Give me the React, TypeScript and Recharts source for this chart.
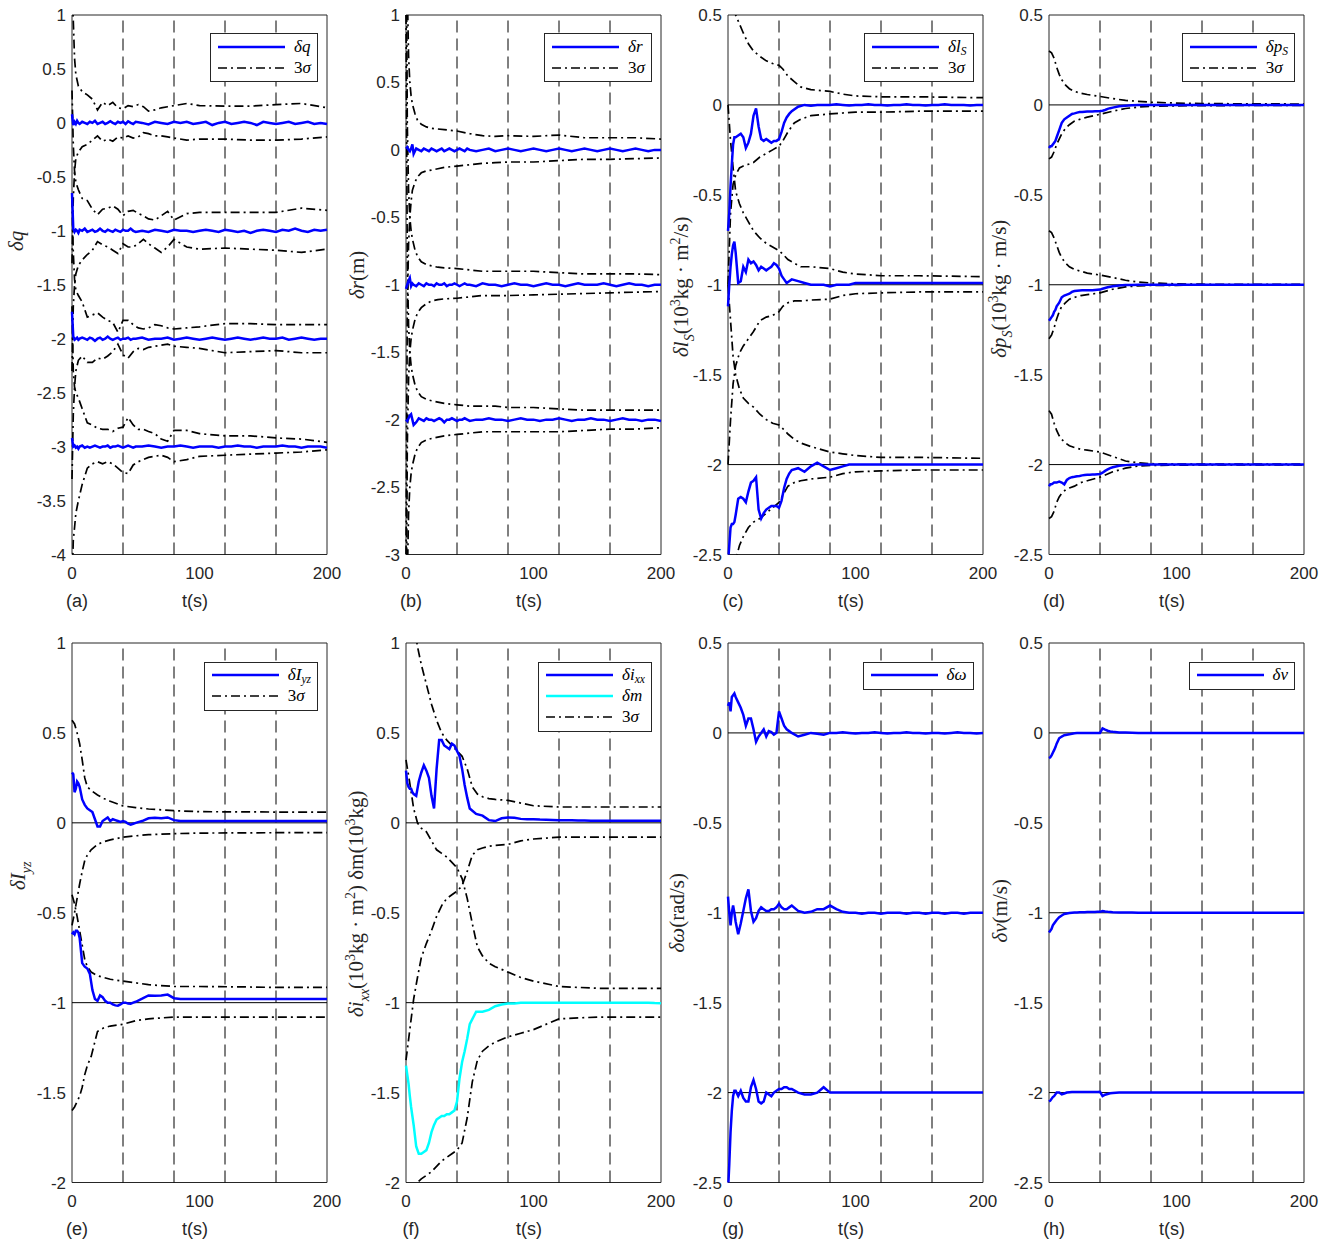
import React from "react";
import {
  Legend,
  Line,
  LineChart,
  ReferenceArea,
  ReferenceLine,
  XAxis,
  YAxis,
} from "recharts";

// shared time grid for the estimation errors (s)
const T_FINE = [
  0, 1, 2, 3, 4, 5, 6, 8, 10, 12,
  14, 16, 18, 20, 22, 24, 26, 28, 30, 32,
  34, 36, 38, 40, 42, 44, 46, 48, 50, 55,
  60, 65, 70, 75, 80, 85, 90, 95, 100, 105,
  110, 115, 120, 125, 130, 135, 140, 145, 150, 155,
  160, 165, 170, 175, 180, 185, 190, 195, 200,
];

const X_TICKS = [0, 100, 200];
const DASH_T = [40, 80, 120, 160];
const TICKS_A = [-4, -3.5, -3, -2.5, -2, -1.5, -1, -0.5, 0, 0.5, 1];
const TICKS_B = [-3, -2.5, -2, -1.5, -1, -0.5, 0, 0.5, 1];
const TICKS_C = [-2.5, -2, -1.5, -1, -0.5, 0, 0.5];
const TICKS_E = [-2, -1.5, -1, -0.5, 0, 0.5, 1];

// (a) delta q
const A_Q0 = [
  0.08, -0.02, 0.01, -0.01, 0.02, 0.0, -0.01, 0.01, 0.0, -0.01,
  0.01, 0.0, 0.02, -0.01, 0.0, 0.01, -0.01, 0.0, 0.015, 0.0,
  -0.01, 0.01, 0.0, 0.01, -0.01, 0.015, 0.0, -0.01, 0.01, 0.0,
  -0.015, 0.01, 0.0, -0.01, 0.01, 0.0, 0.01, -0.01, 0.0, 0.01,
  -0.02, 0.0, 0.01, -0.01, 0.0, 0.01, 0.0, -0.02, 0.01, 0.0,
  -0.01, 0.0, 0.01, -0.01, 0.0, 0.01, -0.01, 0.0, -0.01,
];
const A_Q1 = [
  -0.65, -0.98, -1.01, -0.99, -1.0, -1.02, -0.99, -1.0, -0.98, -1.01,
  -1.0, -0.99, -1.01, -1.0, -0.98, -1.0, -1.01, -0.99, -1.0, -1.01,
  -0.99, -1.0, -1.01, -0.99, -1.0, -1.0, -0.98, -1.0, -1.01, -1.0,
  -1.01, -0.99, -1.0, -1.01, -0.99, -1.0, -1.0, -1.01, -1.0, -0.99,
  -1.0, -1.01, -0.99, -1.0, -1.01, -1.0, -1.02, -1.0, -0.99, -1.0,
  -1.01, -0.99, -1.0, -0.98, -1.0, -1.01, -0.99, -1.0, -0.99,
];
const A_Q2 = [
  -1.75, -1.98, -2.01, -2.0, -1.99, -2.01, -2.0, -1.99, -2.0, -2.01,
  -1.99, -2.0, -2.02, -2.0, -1.99, -2.01, -2.0, -1.98, -2.0, -2.01,
  -2.0, -1.99, -2.01, -2.0, -2.0, -1.99, -2.01, -2.0, -2.0, -1.99,
  -2.01, -2.0, -2.0, -1.99, -2.01, -2.0, -1.99, -2.0, -2.01, -2.0,
  -1.99, -2.0, -2.01, -2.0, -1.99, -2.0, -2.01, -2.0, -1.99, -2.0,
  -2.0, -1.99, -2.01, -2.0, -1.99, -2.0, -2.01, -2.0, -2.0,
];
const A_Q3 = [
  -2.92, -3.0, -2.99, -3.01, -3.0, -3.02, -3.0, -2.99, -3.01, -3.0,
  -3.01, -3.0, -2.99, -3.0, -3.01, -3.0, -3.0, -2.99, -3.01, -3.0,
  -3.0, -2.99, -3.0, -3.01, -3.0, -2.99, -3.0, -3.01, -3.0, -3.0,
  -2.99, -3.0, -3.01, -3.0, -3.0, -2.99, -3.0, -3.01, -3.0, -3.0,
  -3.0, -3.01, -3.0, -3.0, -2.99, -3.0, -3.0, -3.01, -3.0, -3.0,
  -3.0, -2.99, -3.0, -3.0, -3.01, -3.0, -3.0, -3.0, -3.01,
];
const A_ENV_T = [0, 1, 2, 3, 5, 8, 12, 16, 20, 24, 28, 32, 36, 40, 44, 48, 52, 56, 60, 65, 70, 75, 80, 90, 100, 120, 140, 160, 180, 200];
const A_U0 = [1.3, 0.95, 0.6, 0.45, 0.34, 0.29, 0.26, 0.22, 0.12, 0.19, 0.16, 0.19, 0.14, 0.13, 0.16, 0.15, 0.17, 0.15, 0.11, 0.12, 0.14, 0.15, 0.16, 0.18, 0.16, 0.155, 0.155, 0.17, 0.18, 0.14];
const A_L0 = [-1.3, -0.7, -0.45, -0.33, -0.27, -0.22, -0.2, -0.16, -0.12, -0.17, -0.15, -0.17, -0.13, -0.14, -0.12, -0.14, -0.13, -0.09, -0.1, -0.12, -0.12, -0.13, -0.14, -0.16, -0.15, -0.15, -0.16, -0.16, -0.15, -0.13];
const A_U1 = [0.3, -0.2, -0.45, -0.55, -0.62, -0.7, -0.72, -0.8, -0.85, -0.8, -0.79, -0.77, -0.8, -0.86, -0.82, -0.81, -0.84, -0.86, -0.89, -0.9, -0.86, -0.82, -0.9, -0.84, -0.83, -0.83, -0.83, -0.83, -0.79, -0.81];
const A_L1 = [-2.3, -1.7, -1.5, -1.4, -1.32, -1.27, -1.22, -1.18, -1.1, -1.13, -1.15, -1.18, -1.21, -1.12, -1.15, -1.15, -1.12, -1.08, -1.12, -1.16, -1.2, -1.15, -1.08, -1.15, -1.17, -1.16, -1.17, -1.18, -1.2, -1.17];
const A_U2 = [-0.7, -1.2, -1.45, -1.55, -1.6, -1.66, -1.8, -1.78, -1.76, -1.8, -1.83, -1.85, -1.94, -1.83, -1.83, -1.87, -1.9, -1.91, -1.9, -1.87, -1.88, -1.9, -1.91, -1.9, -1.89, -1.86, -1.86, -1.87, -1.87, -1.87];
const A_L2 = [-3.3, -2.7, -2.45, -2.3, -2.2, -2.16, -2.22, -2.22, -2.18, -2.19, -2.16, -2.12, -2.05, -2.15, -2.18, -2.12, -2.09, -2.1, -2.08, -2.07, -2.06, -2.05, -2.07, -2.08, -2.09, -2.13, -2.12, -2.11, -2.13, -2.13];
const A_U3 = [-1.7, -2.3, -2.45, -2.5, -2.55, -2.65, -2.78, -2.8, -2.83, -2.84, -2.84, -2.86, -2.83, -2.82, -2.73, -2.8, -2.84, -2.84, -2.86, -2.88, -2.93, -2.95, -2.85, -2.85, -2.88, -2.9, -2.9, -2.92, -2.93, -2.96];
const A_L3 = [-4.3, -3.87, -3.75, -3.62, -3.5, -3.35, -3.2, -3.16, -3.14, -3.16, -3.14, -3.16, -3.2, -3.24, -3.25, -3.17, -3.14, -3.12, -3.1, -3.09, -3.08, -3.1, -3.14, -3.12, -3.09, -3.08, -3.07, -3.06, -3.05, -3.03];

// (b) delta r
const B_R0 = [
  0.01, 0.02, 0.0, -0.01, 0.01, 0.04, -0.03, 0.01, 0.0, -0.01,
  0.01, 0.0, -0.01, 0.01, 0.0, -0.01, 0.0, 0.01, -0.01, 0.0,
  0.01, 0.0, -0.01, 0.0, 0.01, 0.0, -0.01, 0.01, 0.0, -0.01,
  0.0, 0.01, -0.01, 0.0, 0.01, 0.0, -0.01, 0.0, 0.01, 0.0,
  -0.01, 0.0, 0.01, 0.0, -0.01, 0.0, 0.01, 0.0, -0.01, 0.0,
  0.01, 0.0, -0.01, 0.0, 0.01, 0.0, -0.01, 0.0, 0.0,
];
const B_R1 = [
  -1.03, -1.0, -0.97, -0.95, -1.01, -0.99, -1.0, -1.01, -0.99, -1.0,
  -1.01, -0.99, -1.0, -1.0, -1.01, -0.99, -1.0, -1.0, -0.99, -1.01,
  -1.0, -1.0, -0.99, -1.0, -1.01, -1.0, -0.99, -1.0, -1.0, -1.01,
  -0.99, -1.0, -1.0, -1.01, -1.0, -0.99, -1.0, -1.0, -1.01, -1.0,
  -0.99, -1.0, -1.0, -1.01, -1.0, -0.99, -1.0, -1.0, -1.0, -0.99,
  -1.0, -1.01, -1.0, -0.99, -1.0, -1.0, -1.01, -1.0, -1.0,
];
const B_R2 = [
  -2.0, -2.01, -1.99, -1.97, -1.96, -2.0, -2.04, -2.02, -1.99, -2.0,
  -2.01, -1.99, -2.0, -2.0, -2.01, -2.0, -1.99, -2.0, -2.02, -2.0,
  -2.0, -1.99, -2.0, -2.01, -2.0, -2.0, -1.99, -2.0, -2.01, -2.0,
  -2.0, -1.99, -2.0, -2.0, -2.01, -2.0, -1.99, -2.0, -2.0, -2.01,
  -2.0, -2.0, -1.99, -2.0, -2.01, -2.0, -2.0, -1.99, -2.0, -2.0,
  -2.01, -2.0, -1.99, -2.0, -2.0, -2.01, -2.0, -2.0, -2.01,
];
const B_ENV_T = [0, 1, 2, 3, 4, 5, 7, 9, 12, 16, 20, 25, 30, 40, 50, 60, 70, 80, 100, 120, 140, 160, 180, 200];
const B_U0 = [3.0, 1.2, 0.7, 0.5, 0.4, 0.34, 0.27, 0.22, 0.19, 0.17, 0.16, 0.155, 0.15, 0.14, 0.12, 0.105, 0.1, 0.105, 0.1, 0.11, 0.09, 0.09, 0.09, 0.08];
const B_L0 = [-3.0, -1.2, -0.7, -0.5, -0.38, -0.3, -0.24, -0.2, -0.17, -0.155, -0.15, -0.14, -0.13, -0.12, -0.11, -0.1, -0.095, -0.09, -0.09, -0.08, -0.07, -0.07, -0.065, -0.06];
const B_U1 = [2.0, 0.2, -0.3, -0.5, -0.6, -0.66, -0.74, -0.79, -0.83, -0.85, -0.86, -0.87, -0.875, -0.88, -0.89, -0.9, -0.9, -0.9, -0.9, -0.91, -0.92, -0.92, -0.92, -0.925];
const B_L1 = [-4.0, -2.2, -1.7, -1.5, -1.4, -1.34, -1.26, -1.21, -1.17, -1.14, -1.12, -1.11, -1.105, -1.1, -1.09, -1.08, -1.08, -1.08, -1.075, -1.07, -1.065, -1.06, -1.055, -1.05];
const B_U2 = [1.0, -0.8, -1.3, -1.5, -1.6, -1.66, -1.74, -1.79, -1.83, -1.85, -1.86, -1.87, -1.88, -1.89, -1.9, -1.9, -1.9, -1.91, -1.91, -1.92, -1.93, -1.93, -1.93, -1.93];
const B_L2 = [-5.0, -3.2, -2.7, -2.5, -2.4, -2.34, -2.26, -2.21, -2.17, -2.15, -2.14, -2.13, -2.12, -2.11, -2.1, -2.09, -2.09, -2.09, -2.09, -2.09, -2.08, -2.07, -2.07, -2.06];

// (c) delta l_S
const C_L0 = [
  -0.7, -0.6, -0.45, -0.33, -0.22, -0.18, -0.18, -0.17, -0.16, -0.18,
  -0.24, -0.21, -0.16, -0.06, -0.02, -0.12, -0.19, -0.2, -0.19, -0.2,
  -0.21, -0.2, -0.2, -0.19, -0.15, -0.1, -0.07, -0.05, -0.035, -0.01,
  0.0, -0.005, 0.0, 0.0, 0.0, 0.003, 0.0, -0.003, 0.0, 0.0,
  0.003, 0.0, 0.0, -0.003, 0.0, 0.0, 0.003, 0.0, 0.0, -0.003,
  0.0, 0.0, 0.003, 0.0, 0.0, 0.0, -0.003, 0.0, 0.0,
];
const C_L1 = [
  -1.12, -1.0, -0.9, -0.83, -0.78, -0.76, -0.82, -0.99, -0.98, -0.9,
  -0.93, -0.86, -0.88, -0.87, -0.89, -0.92, -0.9, -0.91, -0.92, -0.91,
  -0.9, -0.88, -0.89, -0.91, -0.95, -0.97, -0.99, -0.98, -0.97, -0.98,
  -0.99, -1.0, -1.0, -1.0, -1.01, -1.0, -1.0, -1.0, -0.99, -0.99,
  -0.99, -0.99, -0.99, -0.99, -0.99, -0.99, -0.99, -0.99, -0.99, -0.99,
  -0.99, -0.99, -0.99, -0.99, -0.99, -0.99, -0.99, -0.99, -0.99,
];
const C_L2 = [
  -2.55, -2.45, -2.35, -2.33, -2.33, -2.32, -2.28, -2.19, -2.18, -2.19,
  -2.21, -2.15, -2.1, -2.09, -2.07, -2.25, -2.3, -2.27, -2.25, -2.24,
  -2.23, -2.23, -2.23, -2.24, -2.2, -2.13, -2.08, -2.05, -2.03, -2.02,
  -2.04, -2.01, -1.99, -2.01, -2.03, -2.02, -2.01, -2.0, -2.0, -2.0,
  -2.0, -2.0, -2.0, -2.0, -2.0, -2.0, -2.0, -2.0, -2.0, -2.0,
  -2.0, -2.0, -2.0, -2.0, -2.0, -2.0, -2.0, -2.0, -2.0,
];
const C_ENV_T = [0, 2, 4, 6, 9, 12, 16, 20, 25, 30, 35, 40, 43, 47, 52, 57, 65, 80, 90, 100, 120, 150, 200];
const C_U0 = [0.75, 0.62, 0.55, 0.5, 0.45, 0.4, 0.34, 0.3, 0.27, 0.245, 0.23, 0.22, 0.2, 0.16, 0.13, 0.1, 0.085, 0.075, 0.06, 0.05, 0.045, 0.045, 0.04];
const C_D0 = [-1.0, -0.6, -0.44, -0.39, -0.35, -0.34, -0.33, -0.32, -0.29, -0.27, -0.25, -0.23, -0.2, -0.15, -0.1, -0.08, -0.06, -0.05, -0.045, -0.04, -0.04, -0.035, -0.035];
const C_U1 = [0.0, -0.2, -0.35, -0.48, -0.55, -0.6, -0.65, -0.7, -0.74, -0.77, -0.79, -0.81, -0.83, -0.86, -0.88, -0.9, -0.9, -0.91, -0.93, -0.94, -0.95, -0.95, -0.955];
const C_D1 = [-2.0, -1.75, -1.55, -1.45, -1.38, -1.34, -1.3, -1.26, -1.2, -1.18, -1.17, -1.15, -1.12, -1.1, -1.09, -1.09, -1.085, -1.08, -1.06, -1.05, -1.045, -1.04, -1.04];
const C_U2 = [-1.0, -1.2, -1.4, -1.5, -1.58, -1.63, -1.66, -1.68, -1.72, -1.75, -1.77, -1.78, -1.8, -1.83, -1.86, -1.88, -1.9, -1.93, -1.94, -1.95, -1.96, -1.96, -1.965];
const C_D2 = [-3.0, -2.8, -2.65, -2.53, -2.45, -2.4, -2.35, -2.32, -2.3, -2.27, -2.24, -2.21, -2.17, -2.12, -2.1, -2.09, -2.08, -2.07, -2.05, -2.04, -2.035, -2.03, -2.03];

// (d) delta p_S
const D_P0 = [
  -0.24, -0.23, -0.23, -0.22, -0.21, -0.2, -0.18, -0.14, -0.1, -0.08,
  -0.07, -0.06, -0.05, -0.047, -0.043, -0.04, -0.04, -0.038, -0.037, -0.036,
  -0.036, -0.035, -0.035, -0.034, -0.032, -0.028, -0.022, -0.018, -0.015, -0.008,
  -0.004, -0.002, -0.001, 0, 0, 0, 0, 0, 0, 0,
  0, 0, 0, 0, 0, 0, 0, 0, 0, 0,
  0, 0, 0, 0, 0, 0, 0, 0, 0,
];
const D_P1 = [
  -1.2, -1.19, -1.18, -1.17, -1.15, -1.14, -1.12, -1.1, -1.07, -1.06,
  -1.055, -1.05, -1.04, -1.035, -1.033, -1.032, -1.031, -1.03, -1.03, -1.03,
  -1.03, -1.029, -1.028, -1.027, -1.022, -1.018, -1.014, -1.011, -1.008, -1.004,
  -1.002, -1.001, -1, -1, -1, -1, -1, -1, -1, -1,
  -1, -1, -1, -1, -1, -1, -1, -1, -1, -1,
  -1, -1, -1, -1, -1, -1, -1, -1, -1,
];
const D_P2 = [
  -2.12, -2.11, -2.11, -2.105, -2.1, -2.1, -2.1, -2.095, -2.1, -2.11,
  -2.085, -2.075, -2.07, -2.068, -2.065, -2.063, -2.06, -2.058, -2.057, -2.056,
  -2.055, -2.055, -2.054, -2.053, -2.045, -2.035, -2.027, -2.02, -2.015, -2.007,
  -2.003, -2.001, -2, -2, -2, -2, -2, -2, -2, -2,
  -2, -2, -2, -2, -2, -2, -2, -2, -2, -2,
  -2, -2, -2, -2, -2, -2, -2, -2, -2,
];
const D_ENV_T = [0, 2, 4, 6, 8, 10, 13, 16, 20, 25, 30, 40, 50, 60, 70, 80, 100, 120, 150, 200];
const D_U0 = [0.3, 0.29, 0.26, 0.21, 0.17, 0.14, 0.11, 0.09, 0.075, 0.065, 0.058, 0.047, 0.035, 0.025, 0.02, 0.015, 0.01, 0.008, 0.006, 0.005];
const D_D0 = [-0.3, -0.29, -0.26, -0.22, -0.19, -0.16, -0.13, -0.11, -0.09, -0.078, -0.068, -0.052, -0.035, -0.02, -0.012, -0.008, -0.005, -0.004, -0.003, -0.003];
const D_U1 = [-0.7, -0.71, -0.74, -0.78, -0.82, -0.85, -0.88, -0.9, -0.915, -0.925, -0.935, -0.946, -0.96, -0.975, -0.985, -0.99, -0.995, -0.997, -0.998, -0.998];
const D_D1 = [-1.3, -1.28, -1.24, -1.19, -1.15, -1.12, -1.1, -1.08, -1.07, -1.06, -1.055, -1.045, -1.025, -1.012, -1.006, -1.004, -1.003, -1.002, -1.002, -1.002];
const D_U2 = [-1.7, -1.72, -1.77, -1.81, -1.84, -1.86, -1.88, -1.895, -1.905, -1.915, -1.92, -1.93, -1.955, -1.98, -1.99, -1.995, -1.997, -1.998, -1.998, -1.998];
const D_D2 = [-2.3, -2.29, -2.26, -2.21, -2.18, -2.16, -2.14, -2.13, -2.12, -2.1, -2.09, -2.07, -2.04, -2.02, -2.008, -2.005, -2.003, -2.002, -2.002, -2.002];

// (e) delta I_yz
const E_I0 = [
  0.28, 0.27, 0.17, 0.19, 0.23, 0.22, 0.2, 0.13, 0.1, 0.08,
  0.07, 0.06, 0.02, -0.02, -0.02, 0.01, 0.02, 0.03, 0.01, 0.02,
  0.015, 0.01, 0.005, 0.01, 0.005, -0.005, -0.01, -0.005, 0.0, 0.01,
  0.025, 0.028, 0.025, 0.03, 0.015, 0.01, 0.01, 0.01, 0.01, 0.01,
  0.01, 0.01, 0.01, 0.01, 0.01, 0.01, 0.01, 0.01, 0.01, 0.01,
  0.01, 0.01, 0.01, 0.01, 0.01, 0.01, 0.01, 0.01, 0.01,
];
const E_I1 = [
  -0.62, -0.61, -0.62, -0.6, -0.6, -0.61, -0.64, -0.78, -0.8, -0.81,
  -0.84, -0.93, -0.98, -0.99, -0.96, -0.97, -0.99, -1.0, -1.0, -1.01,
  -1.015, -1.017, -1.01, -1.0, -1.0, -1.005, -1.006, -1.0, -0.995, -0.978,
  -0.96, -0.962, -0.96, -0.955, -0.975, -0.98, -0.98, -0.98, -0.98, -0.98,
  -0.98, -0.98, -0.98, -0.98, -0.98, -0.98, -0.98, -0.98, -0.98, -0.98,
  -0.98, -0.98, -0.98, -0.98, -0.98, -0.98, -0.98, -0.98, -0.98,
];
const E_ENV_T = [0, 2, 4, 6, 8, 10, 12, 15, 20, 25, 30, 40, 50, 60, 80, 100, 130, 160, 200];
const E_U0 = [0.57, 0.55, 0.5, 0.44, 0.35, 0.25, 0.2, 0.18, 0.155, 0.135, 0.12, 0.094, 0.085, 0.077, 0.068, 0.062, 0.061, 0.06, 0.06];
const E_D0 = [-0.57, -0.5, -0.42, -0.34, -0.27, -0.21, -0.18, -0.15, -0.12, -0.105, -0.095, -0.08, -0.072, -0.066, -0.06, -0.057, -0.056, -0.055, -0.055];
const E_U1 = [-0.4, -0.45, -0.52, -0.6, -0.68, -0.76, -0.8, -0.83, -0.85, -0.86, -0.87, -0.88, -0.89, -0.9, -0.91, -0.91, -0.912, -0.915, -0.915];
const E_D1 = [-1.6, -1.58, -1.55, -1.52, -1.47, -1.4, -1.35, -1.3, -1.16, -1.14, -1.13, -1.12, -1.1, -1.09, -1.08, -1.08, -1.08, -1.08, -1.08];

// (f) delta i_xx and delta m
const F_IXX = [
  0.29, 0.22, 0.2, 0.19, 0.19, 0.17, 0.16, 0.15, 0.23, 0.28,
  0.32, 0.29, 0.25, 0.15, 0.08, 0.3, 0.46, 0.46, 0.43, 0.42,
  0.41, 0.44, 0.43, 0.4, 0.37, 0.3, 0.21, 0.14, 0.08, 0.05,
  0.04, 0.015, 0.01, 0.025, 0.03, 0.028, 0.022, 0.02, 0.02, 0.018,
  0.017, 0.016, 0.015, 0.015, 0.014, 0.013, 0.013, 0.012, 0.012, 0.012,
  0.011, 0.011, 0.011, 0.011, 0.011, 0.011, 0.011, 0.011, 0.011,
];
const F_M = [
  -1.35, -1.4, -1.45, -1.52, -1.58, -1.63, -1.68, -1.8, -1.84, -1.84,
  -1.83, -1.82, -1.78, -1.72, -1.68, -1.65, -1.64, -1.63, -1.63, -1.62,
  -1.62, -1.61, -1.6, -1.55, -1.42, -1.33, -1.27, -1.2, -1.12, -1.05,
  -1.05, -1.04, -1.02, -1.01, -1.005, -1.005, -1.0, -1.0, -1.0, -1.0,
  -1.0, -1.0, -1.0, -1.0, -1.0, -1.0, -1.0, -1.0, -1.0, -1.0,
  -1.0, -1.0, -1.0, -1.0, -1.0, -1.0, -1.0, -1.002, -1.003,
];
const F_ENV_T = [0, 3, 6, 9, 12, 16, 20, 24, 28, 32, 36, 40, 44, 48, 52, 56, 60, 65, 70, 80, 90, 100, 120, 150, 200];
const F_UXX = [1.6, 1.35, 1.12, 0.98, 0.88, 0.77, 0.66, 0.57, 0.5, 0.46, 0.43, 0.4, 0.37, 0.3, 0.2, 0.16, 0.145, 0.135, 0.13, 0.125, 0.11, 0.095, 0.088, 0.088, 0.088];
const F_UM = [0.35, 0.22, 0.08, 0.0, -0.03, -0.05, -0.1, -0.15, -0.17, -0.19, -0.22, -0.25, -0.31, -0.42, -0.56, -0.69, -0.74, -0.78, -0.8, -0.83, -0.86, -0.88, -0.91, -0.92, -0.92];
const F_DXX = [-1.32, -1.15, -0.98, -0.86, -0.75, -0.67, -0.6, -0.52, -0.46, -0.42, -0.4, -0.38, -0.35, -0.27, -0.18, -0.15, -0.14, -0.13, -0.125, -0.12, -0.1, -0.09, -0.08, -0.08, -0.08];
const F_DM = [-2.3, -2.15, -2.05, -2.0, -1.98, -1.96, -1.94, -1.91, -1.88, -1.86, -1.84, -1.82, -1.78, -1.64, -1.44, -1.32, -1.27, -1.24, -1.22, -1.19, -1.17, -1.15, -1.09, -1.08, -1.08];

// (g) delta omega
const G_W0 = [
  0.15, 0.17, 0.12, 0.2, 0.21, 0.22, 0.2, 0.17, 0.14, 0.1,
  0.04, 0.08, 0.08, 0.02, -0.05, -0.02, 0.0, 0.02, -0.02, 0.01,
  0.005, -0.01, 0.0, 0.12, 0.08, 0.04, 0.02, 0.01, 0.0, -0.02,
  -0.01, 0.0, -0.005, -0.01, 0.0, 0.0, 0.003, 0.0, -0.003, 0.0,
  0.0, 0.003, 0.0, -0.003, 0.0, 0.0, 0.003, 0.0, 0.0, -0.003,
  0.0, 0.0, -0.003, 0.0, 0.003, 0.0, 0.0, -0.003, 0.0,
];
const G_W1 = [
  -0.91, -1.0, -1.07, -1.0, -0.96, -1.0, -1.05, -1.12, -1.06, -0.99,
  -0.92, -0.87, -0.99, -1.05, -1.03, -0.99, -0.97, -0.98, -0.99, -0.99,
  -0.98, -0.98, -0.97, -0.95, -0.97, -0.98, -0.98, -0.97, -0.96, -0.99,
  -1.0, -0.995, -0.98, -0.98, -0.96, -0.98, -0.995, -1.0, -1.0, -1.005,
  -1.0, -1.0, -1.005, -1.0, -1.0, -1.0, -1.005, -1.0, -1.0, -1.005,
  -1.0, -1.0, -1.005, -1.0, -1.0, -1.005, -1.0, -1.0, -1.0,
];
const G_W2 = [
  -2.55, -2.4, -2.22, -2.1, -2.02, -1.99, -1.99, -2.02, -1.99, -2.03,
  -2.05, -2.05, -1.97, -1.93, -1.98, -2.05, -2.06, -2.05, -2.0, -2.01,
  -2.02, -2.0, -1.99, -1.98, -1.98, -1.97, -1.97, -1.98, -1.98, -2.0,
  -2.01, -2.01, -2.0, -1.97, -2.0, -2.0, -2.0, -2.0, -2.0, -2.0,
  -2.0, -2.0, -2.0, -2.0, -2.0, -2.0, -2.0, -2.0, -2.0, -2.0,
  -2.0, -2.0, -2.0, -2.0, -2.0, -2.0, -2.0, -2.0, -2.0,
];

// (h) delta v
const H_V0 = [
  -0.14, -0.136, -0.125, -0.11, -0.096, -0.08, -0.06, -0.03, -0.02, -0.013,
  -0.01, -0.008, -0.005, -0.002, -0.001, 0, 0, 0, 0, 0,
  0, 0, 0, 0, 0.025, 0.018, 0.012, 0.008, 0.006, 0.003,
  0.002, 0.001, 0, 0, 0, 0, 0, 0, 0, 0,
  0, 0, 0, 0, 0, 0, 0, 0, 0, 0,
  0, 0, 0, 0, 0, 0, 0, 0, 0,
];
const H_V1 = [
  -1.11, -1.1, -1.09, -1.07, -1.06, -1.05, -1.04, -1.025, -1.015, -1.007,
  -1.004, -1.002, -1.0, -0.998, -0.998, -0.997, -0.997, -0.997, -0.996, -0.996,
  -0.996, -0.996, -0.995, -0.995, -0.99, -0.993, -0.995, -0.996, -0.997, -0.998,
  -0.998, -0.999, -1, -1, -1, -1, -1, -1, -1, -1,
  -1, -1, -1, -1, -1, -1, -1, -1, -1, -1,
  -1, -1, -1, -1, -1, -1, -1, -1, -1,
];
const H_V2 = [
  -2.05, -2.045, -2.035, -2.025, -2.02, -2.01, -2.0, -2.0, -2.01, -2.005,
  -2.0, -1.998, -1.997, -1.997, -1.997, -1.997, -1.997, -1.997, -1.997, -1.997,
  -1.997, -1.997, -1.997, -1.996, -2.02, -2.012, -2.008, -2.004, -2.002, -2.0,
  -2, -2, -2, -2, -2, -2, -2, -2, -2, -2,
  -2, -2, -2, -2, -2, -2, -2, -2, -2, -2,
  -2, -2, -2, -2, -2, -2, -2, -2, -2,
];

const FRAME = "#262626";
const BLUE = "#0000ff";
const CYAN = "#00ffff";
const DASH_DOT = "9 4 2 4";
const SANS = '"Liberation Sans", Arial, Helvetica, sans-serif';
const SERIF = '"Liberation Serif", "Times New Roman", serif';

const AXIS_W = 80;
const RIGHT_M = 20;
const TOP_M = 10;
const PLOT_W = 255;
const PLOT_H = 539.5;
const BOTTOM_H = 60;
const CHART_W = AXIS_W + PLOT_W + RIGHT_M;
const CHART_H = TOP_M + PLOT_H + BOTTOM_H;
const EST_W = 2.5;
const ENV_W = 1.7;

type Pt = { t: number; v: number };
type Series = { data: Pt[]; color: string; dashed?: boolean };
type LabelPart = { t: string; i?: boolean; sub?: boolean; sup?: boolean };
type LegendItem = { label: React.ReactNode; color: string; dashed?: boolean };

const zip = (ts: number[], vs: number[]): Pt[] => ts.map((t, i) => ({ t, v: vs[i] }));
const env = (ts: number[], vs: number[]): Series => ({ data: zip(ts, vs), color: "#000", dashed: true });
const est = (vs: number[], color = BLUE): Series => ({ data: zip(T_FINE, vs), color });

const Sub = ({ children }: { children: React.ReactNode }) => (
  <sub style={{ fontSize: "0.68em", verticalAlign: "-0.3em", lineHeight: 0 }}>{children}</sub>
);

const SIGMA: LegendItem = {
  label: (
    <>
      <span style={{ fontStyle: "normal" }}>3</span>σ
    </>
  ),
  color: "#000",
  dashed: true,
};

function SideTitle({ parts, cx, cy }: { parts: LabelPart[]; cx: number; cy: number }) {
  let shift = 0;
  const spans = parts.map((p, i) => {
    const target = p.sub ? 6 : p.sup ? -8 : 0;
    const dy = target - shift;
    shift = target;
    return (
      <tspan
        key={i}
        dy={dy}
        fontStyle={p.i ? "italic" : "normal"}
        fontSize={p.sub || p.sup ? 14 : 21}
      >
        {p.t}
      </tspan>
    );
  });
  return (
    <text
      x={cx}
      y={cy}
      transform={`rotate(-90 ${cx} ${cy})`}
      textAnchor="middle"
      fill={FRAME}
      fontFamily={SERIF}
      fontSize={21}
    >
      {spans}
    </text>
  );
}

function BottomText({ letter }: { letter: string }) {
  const y = TOP_M + PLOT_H + 46;
  const style = { fontFamily: SANS, fontSize: 18, fill: FRAME };
  return (
    <g>
      <text x={AXIS_W + 5} y={y} textAnchor="middle" dominantBaseline="central" style={style}>
        ({letter})
      </text>
      <text x={AXIS_W + 123} y={y} textAnchor="middle" dominantBaseline="central" style={style}>
        t(s)
      </text>
    </g>
  );
}

function LegendBox({ items }: { items: LegendItem[] }) {
  return (
    <div
      style={{
        border: `1px solid ${FRAME}`,
        background: "#fff",
        padding: "2px 6px 3px 7px",
        fontFamily: SERIF,
        fontStyle: "italic",
        fontSize: 17,
        color: "#000",
      }}
    >
      {items.map((it, i) => (
        <div key={i} style={{ display: "flex", alignItems: "center", height: 21 }}>
          <svg width={67} height={10} style={{ display: "block" }}>
            <line
              x1={0}
              x2={67}
              y1={5}
              y2={5}
              stroke={it.color}
              strokeWidth={it.dashed ? ENV_W : EST_W}
              strokeDasharray={it.dashed ? DASH_DOT : undefined}
            />
          </svg>
          <span style={{ marginLeft: 9, whiteSpace: "nowrap" }}>{it.label}</span>
        </div>
      ))}
    </div>
  );
}

type PanelDef = {
  id: string;
  left: number;
  top: number;
  yMin: number;
  yMax: number;
  ticks: number[];
  title: LabelPart[];
  titleDist: number;
  titleShift: number;
  legend: LegendItem[];
  hLines: number[];
  series: Series[];
};

const ROW1 = 14.5;
const ROW2 = 643;

const PANELS: PanelDef[] = [
  {
    id: "a", left: 72, top: ROW1, yMin: -4, yMax: 1, ticks: TICKS_A,
    title: [{ t: "δq", i: true }], titleDist: 56, titleShift: -44,
    legend: [{ label: "δq", color: BLUE }, SIGMA], hLines: [],
    series: [
      env(A_ENV_T, A_U0), env(A_ENV_T, A_L0), env(A_ENV_T, A_U1), env(A_ENV_T, A_L1),
      env(A_ENV_T, A_U2), env(A_ENV_T, A_L2), env(A_ENV_T, A_U3), env(A_ENV_T, A_L3),
      est(A_Q0), est(A_Q1), est(A_Q2), est(A_Q3),
    ],
  },
  {
    id: "b", left: 406, top: ROW1, yMin: -3, yMax: 1, ticks: TICKS_B,
    title: [{ t: "δr", i: true }, { t: "(m)" }], titleDist: 49, titleShift: -10,
    legend: [{ label: "δr", color: BLUE }, SIGMA], hLines: [],
    series: [
      env(B_ENV_T, B_U0), env(B_ENV_T, B_L0), env(B_ENV_T, B_U1),
      env(B_ENV_T, B_L1), env(B_ENV_T, B_U2), env(B_ENV_T, B_L2),
      est(B_R0), est(B_R1), est(B_R2),
    ],
  },
  {
    id: "c", left: 727.5, top: ROW1, yMin: -2.5, yMax: 0.5, ticks: TICKS_C,
    title: [
      { t: "δl", i: true }, { t: "S", i: true, sub: true }, { t: "(10" }, { t: "3", sup: true },
      { t: "kg · m" }, { t: "2", sup: true }, { t: "/s)" },
    ],
    titleDist: 47, titleShift: 2,
    legend: [{ label: <>δl<Sub>S</Sub></>, color: BLUE }, SIGMA], hLines: [0, -1, -2],
    series: [
      env(C_ENV_T, C_U0), env(C_ENV_T, C_D0), env(C_ENV_T, C_U1),
      env(C_ENV_T, C_D1), env(C_ENV_T, C_U2), env(C_ENV_T, C_D2),
      est(C_L0), est(C_L1), est(C_L2),
    ],
  },
  {
    id: "d", left: 1049, top: ROW1, yMin: -2.5, yMax: 0.5, ticks: TICKS_C,
    title: [
      { t: "δp", i: true }, { t: "S", i: true, sub: true }, { t: "(10" }, { t: "3", sup: true },
      { t: "kg · m/s)" },
    ],
    titleDist: 50, titleShift: 4,
    legend: [{ label: <>δp<Sub>S</Sub></>, color: BLUE }, SIGMA], hLines: [0, -1, -2],
    series: [
      env(D_ENV_T, D_U0), env(D_ENV_T, D_D0), env(D_ENV_T, D_U1),
      env(D_ENV_T, D_D1), env(D_ENV_T, D_U2), env(D_ENV_T, D_D2),
      est(D_P0), est(D_P1), est(D_P2),
    ],
  },
  {
    id: "e", left: 72, top: ROW2, yMin: -2, yMax: 1, ticks: TICKS_E,
    title: [{ t: "δI", i: true }, { t: "yz", i: true, sub: true }], titleDist: 54, titleShift: -37,
    legend: [{ label: <>δI<Sub>yz</Sub></>, color: BLUE }, SIGMA], hLines: [0, -1],
    series: [
      env(E_ENV_T, E_U0), env(E_ENV_T, E_D0), env(E_ENV_T, E_U1), env(E_ENV_T, E_D1),
      est(E_I0), est(E_I1),
    ],
  },
  {
    id: "f", left: 406, top: ROW2, yMin: -2, yMax: 1, ticks: TICKS_E,
    title: [
      { t: "δi", i: true }, { t: "xx", i: true, sub: true }, { t: "(10" }, { t: "3", sup: true },
      { t: "kg · m" }, { t: "2", sup: true }, { t: ")  δm(10" }, { t: "3", sup: true }, { t: "kg)" },
    ],
    titleDist: 50, titleShift: -9,
    legend: [
      { label: <>δi<Sub>xx</Sub></>, color: BLUE },
      { label: "δm", color: CYAN },
      SIGMA,
    ],
    hLines: [0, -1],
    series: [
      env(F_ENV_T, F_UXX), env(F_ENV_T, F_UM), env(F_ENV_T, F_DXX), env(F_ENV_T, F_DM),
      est(F_IXX), est(F_M, CYAN),
    ],
  },
  {
    id: "g", left: 727.5, top: ROW2, yMin: -2.5, yMax: 0.5, ticks: TICKS_C,
    title: [{ t: "δω", i: true }, { t: "(rad/s)" }], titleDist: 51, titleShift: 0,
    legend: [{ label: "δω", color: BLUE }], hLines: [0, -1, -2],
    series: [est(G_W0), est(G_W1), est(G_W2)],
  },
  {
    id: "h", left: 1049, top: ROW2, yMin: -2.5, yMax: 0.5, ticks: TICKS_C,
    title: [{ t: "δv", i: true }, { t: "(m/s)" }], titleDist: 49, titleShift: -2,
    legend: [{ label: "δv", color: BLUE }], hLines: [0, -1, -2],
    series: [est(H_V0), est(H_V1), est(H_V2)],
  },
];

const TICK_STYLE = { fill: FRAME, fontSize: 17, fontFamily: SANS };

function Panel({ p }: { p: PanelDef }) {
  const titleX = AXIS_W - p.titleDist + 7;
  const titleY = TOP_M + PLOT_H / 2 + p.titleShift;
  return (
    <div style={{ position: "absolute", left: p.left - AXIS_W, top: p.top - TOP_M }}>
      <LineChart
        width={CHART_W}
        height={CHART_H}
        margin={{ top: TOP_M, right: RIGHT_M, bottom: 0, left: 0 }}
      >
        <XAxis
          dataKey="t"
          type="number"
          domain={[0, 200]}
          ticks={X_TICKS}
          interval={0}
          height={BOTTOM_H}
          tickLine={false}
          axisLine={false}
          tickSize={0}
          tickMargin={12}
          tick={TICK_STYLE}
          label={<BottomText letter={p.id} />}
        />
        <XAxis
          xAxisId="tickTop"
          orientation="top"
          mirror
          type="number"
          domain={[0, 200]}
          ticks={X_TICKS}
          interval={0}
          tick={false}
          axisLine={false}
          tickSize={5}
          tickLine={{ stroke: FRAME }}
        />
        <XAxis
          xAxisId="tickBottom"
          orientation="bottom"
          mirror
          type="number"
          domain={[0, 200]}
          ticks={X_TICKS}
          interval={0}
          tick={false}
          axisLine={false}
          tickSize={5}
          tickLine={{ stroke: FRAME }}
        />
        <YAxis
          type="number"
          domain={[p.yMin, p.yMax]}
          ticks={p.ticks}
          interval={0}
          width={AXIS_W}
          allowDataOverflow
          tickLine={false}
          axisLine={false}
          tickSize={0}
          tickMargin={6}
          tick={TICK_STYLE}
          label={<SideTitle parts={p.title} cx={titleX} cy={titleY} />}
        />
        <YAxis
          yAxisId="tickLeft"
          orientation="left"
          mirror
          type="number"
          domain={[p.yMin, p.yMax]}
          ticks={p.ticks}
          interval={0}
          tick={false}
          axisLine={false}
          tickSize={5}
          tickLine={{ stroke: FRAME }}
        />
        <YAxis
          yAxisId="tickRight"
          orientation="right"
          mirror
          type="number"
          domain={[p.yMin, p.yMax]}
          ticks={p.ticks}
          interval={0}
          tick={false}
          axisLine={false}
          tickSize={5}
          tickLine={{ stroke: FRAME }}
        />
        {DASH_T.map((t) => (
          <ReferenceLine key={`v${t}`} x={t} stroke="#000" strokeWidth={1} strokeDasharray="12 6" />
        ))}
        {p.hLines.map((y) => (
          <ReferenceLine key={`h${y}`} y={y} stroke="#000" strokeWidth={1} />
        ))}
        {p.series.map((s, i) => (
          <Line
            key={i}
            data={s.data}
            dataKey="v"
            type="linear"
            stroke={s.color}
            strokeWidth={s.dashed ? ENV_W : EST_W}
            strokeDasharray={s.dashed ? DASH_DOT : undefined}
            dot={false}
            activeDot={false}
            isAnimationActive={false}
          />
        ))}
        <ReferenceArea
          x1={0}
          x2={200}
          y1={p.yMin}
          y2={p.yMax}
          fill="none"
          stroke={FRAME}
          strokeWidth={1}
          ifOverflow="visible"
        />
        <Legend
          layout="vertical"
          align="center"
          verticalAlign="middle"
          wrapperStyle={{
            top: TOP_M + 18.5,
            right: RIGHT_M + 9,
            left: "auto",
            bottom: "auto",
            width: "auto",
            height: "auto",
          }}
          content={() => <LegendBox items={p.legend} />}
        />
      </LineChart>
    </div>
  );
}

export default function App() {
  return (
    <div
      style={{
        position: "absolute",
        left: 0,
        top: 0,
        width: 1321,
        height: 1241,
        background: "#fff",
      }}
    >
      {PANELS.map((p) => (
        <Panel key={p.id} p={p} />
      ))}
    </div>
  );
}
